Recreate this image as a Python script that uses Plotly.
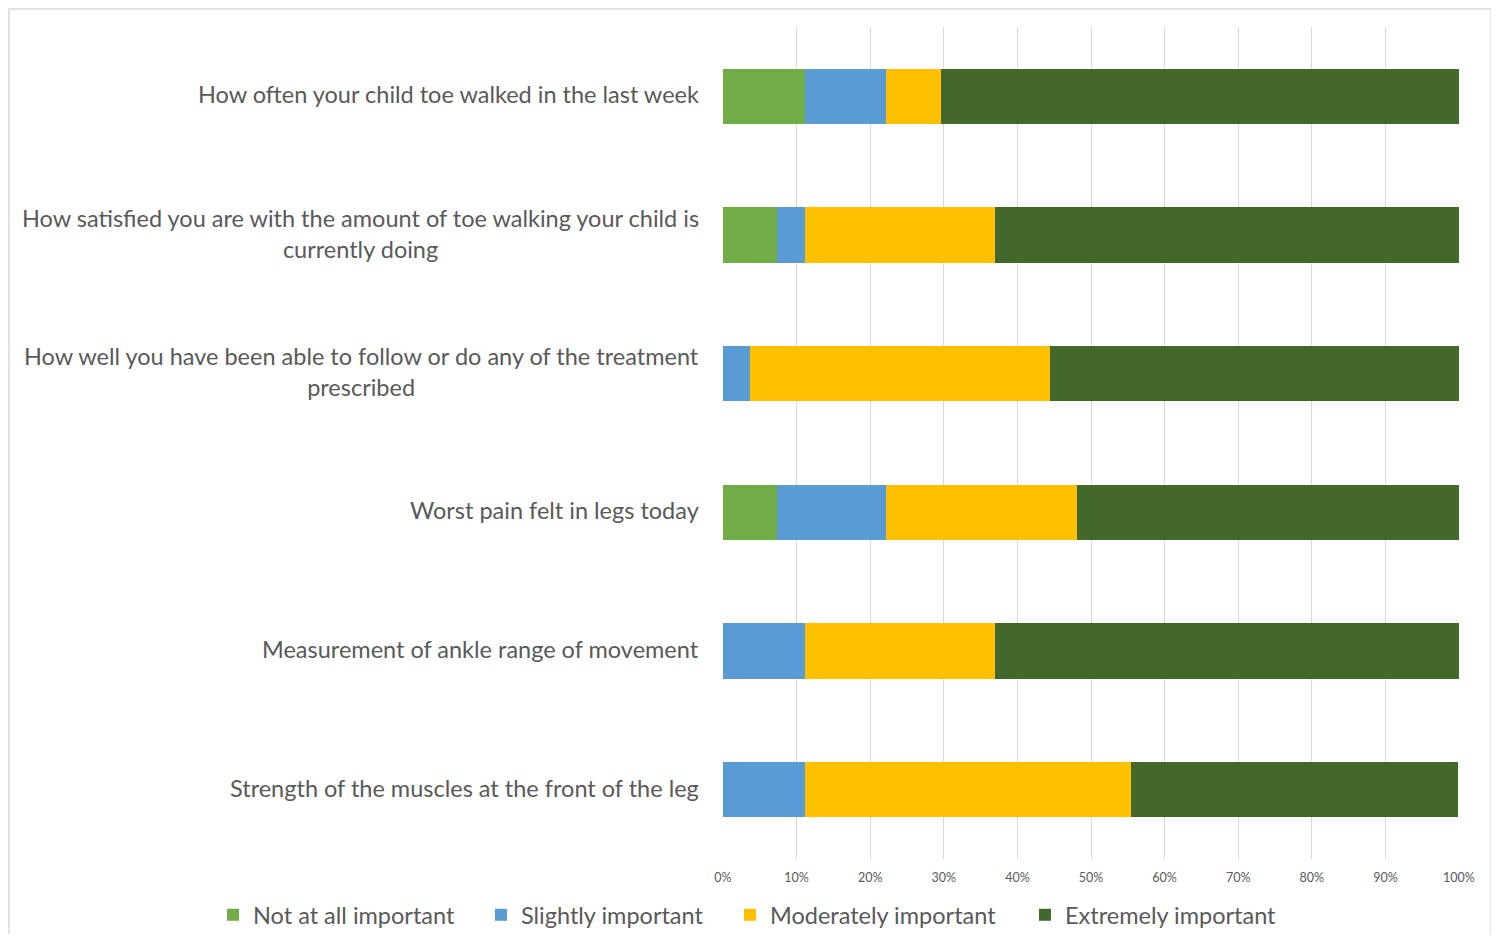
import plotly.graph_objects as go

categories = [
    "How often your child toe walked in the last week",
    "How satisfied you are with the amount of toe walking your child is<br>currently doing",
    "How well you have been able to follow or do any of the treatment<br>prescribed",
    "Worst pain felt in legs today",
    "Measurement of ankle range of movement",
    "Strength of the muscles at the front of the leg",
]
series_names = ["Not at all important", "Slightly important", "Moderately important", "Extremely important"]
not_at_all = [11.1, 7.4, 0.0, 7.4, 0.0, 0.0]
slightly = [11.1, 3.7, 3.7, 14.8, 11.1, 11.1]
moderately = [7.4, 25.9, 40.7, 25.9, 25.9, 44.4]
extremely = [70.4, 63.0, 55.6, 51.9, 63.0, 44.4]
values = [not_at_all, slightly, moderately, extremely]
colors = ["#70AD47", "#5B9BD5", "#FFC000", "#43682B"]
tick_vals = [0, 10, 20, 30, 40, 50, 60, 70, 80, 90, 100]
tick_text = ["0%", "10%", "20%", "30%", "40%", "50%", "60%", "70%", "80%", "90%", "100%"]

FONT = "Lato, Carlito, Calibri, sans-serif"
OFF = 8  # page body margin
W, H = 1483, 926
ml, mr, mt, mb = 723 - OFF, 32, 27 - OFF, 75
pw, ph = W - ml - mr, H - mt - mb


def px_x(p):
    return (p - OFF - ml) / pw


def px_y(p):
    return 1 - (p - OFF - mt) / ph


legend_ids = ["legend", "legend2", "legend3", "legend4"]
legend_text_x = [255, 523, 772, 1067]

fig = go.Figure()
for name, vals, col, lid in zip(series_names, values, colors, legend_ids):
    fig.add_trace(go.Bar(
        y=categories, x=vals, name=name, orientation="h", legend=lid,
        marker=dict(color=col, line=dict(width=0)),
        hovertemplate="%{y}: %{x}%<extra>" + name + "</extra>",
    ))

for c in categories:
    fig.add_annotation(
        x=0, xref="paper", y=c, yref="y", text=c, showarrow=False,
        xanchor="right", yanchor="middle", align="center", xshift=-22, yshift=2,
        font=dict(family=FONT, size=23.5, color="#595959"),
    )

fig.add_shape(type="rect", xref="paper", yref="paper",
              x0=px_x(9), x1=px_x(1491), y0=px_y(960), y1=px_y(9),
              line=dict(color="#D9D9D9", width=1.5), fillcolor="rgba(0,0,0,0)", layer="below")

legend_layout = {}
for lid, tx in zip(legend_ids, legend_text_x):
    legend_layout[lid] = dict(
        orientation="h", x=px_x(tx - 42), xanchor="left", y=px_y(915), yanchor="middle",
        font=dict(family=FONT, size=23.5, color="#595959"), itemwidth=30,
        bgcolor="rgba(0,0,0,0)", borderwidth=0,
    )

fig.update_layout(
    width=W, height=H,
    margin=dict(l=ml, r=mr, t=mt, b=mb, autoexpand=False),
    barmode="stack", bargap=0.6,
    plot_bgcolor="white", paper_bgcolor="white",
    font=dict(family=FONT, color="#595959"),
    xaxis=dict(range=[0, 100], tickvals=tick_vals, ticktext=tick_text,
               showgrid=True, gridcolor="#D9D9D9", gridwidth=1,
               zeroline=False, showline=False, ticks="",
               tickfont=dict(size=12.5, color="#595959"), ticklabelstandoff=9),
    yaxis=dict(categoryorder="array", categoryarray=categories, autorange="reversed",
               showticklabels=False, showgrid=False, zeroline=False, showline=False, ticks=""),
    showlegend=True,
    **legend_layout,
)

fig.write_html("out.html")
